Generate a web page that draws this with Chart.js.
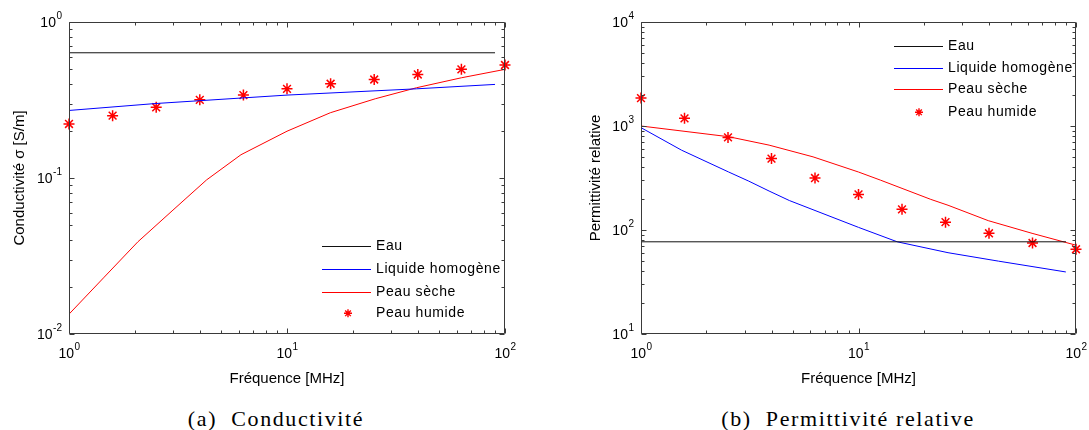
<!DOCTYPE html>
<html><head><meta charset="utf-8">
<script src="https://cdn.jsdelivr.net/npm/chart.js@4.4.1/dist/chart.umd.min.js"></script>
<style>
html,body{margin:0;padding:0;background:#fff;width:1089px;height:430px;overflow:hidden;position:relative}
canvas{position:absolute;top:0}
.cap{position:absolute;font-family:"Liberation Serif","Times New Roman",serif;font-size:22px;letter-spacing:1.6px;white-space:pre;transform:translateX(-50%);color:#000;line-height:1}
</style></head><body>
<canvas id="c1" width="540" height="400" style="left:0"></canvas>
<canvas id="c2" width="529" height="400" style="left:560px"></canvas>
<div class="cap" style="left:276px;top:408px">(a)  Conductivité</div>
<div class="cap" style="left:848px;top:408px">(b)  Permittivité relative</div>
<script>
// ---------- data ----------
const seriesLabels = ['Eau', 'Liquide homogène', 'Peau sèche', 'Peau humide'];
const starFreq = [1, 1.585, 2.512, 3.981, 6.31, 10, 15.85, 25.12, 39.81, 63.1, 100];

// (a) Conductivité [S/m]
const eauSigmaFreq = [1, 90];
const eauSigma = [0.635, 0.635];
const liqSigmaFreq = [1, 2.48, 10, 39.3, 90];
const liqSigma = [0.271, 0.30, 0.34, 0.373, 0.398];
const secheSigmaFreq = [1, 1.44, 2.07, 2.97, 3.44, 4.28, 6.15, 10, 15.8, 25.4, 39.3, 63.1, 100];
const secheSigma = [0.0134, 0.0229, 0.039, 0.0615, 0.074, 0.0973, 0.141, 0.1995, 0.262, 0.322, 0.379, 0.439, 0.497];
const humideSigma = [0.222, 0.251, 0.284, 0.317, 0.34, 0.373, 0.402, 0.428, 0.461, 0.497, 0.53];

// (b) Permittivité relative
const eauEpsFreq = [1, 90];
const eauEps = [77, 77];
const liqEpsFreq = [1, 1.535, 2.53, 3.13, 3.88, 4.81, 10, 15.07, 25.8, 44, 89.8];
const liqEps = [964, 586, 361, 295, 237, 192, 106, 77, 60.5, 50.2, 39.5];
const secheEpsFreq = [1, 2.53, 3.88, 6.18, 10, 12.6, 21.5, 25.8, 39.5, 62.8, 89.8, 100];
const secheEps = [1000, 789, 655, 505, 361, 302, 197, 173, 123, 92.9, 75.9, 71.4];
const humideEps = [1854, 1186, 776, 486, 316, 220, 158, 119, 93, 75, 65.3];

const xTickValues = [1, 10, 100];
const ySigmaTickValues = [0.01, 0.1, 1];
const yEpsTickValues = [10, 100, 1000, 10000];

// ---------- helpers ----------
const FF = '"Liberation Sans", Arial, Helvetica, sans-serif';
function pts(xs, ys){ return xs.map((x, i) => ({x: x, y: ys[i]})); }
function expOf(v){ return String(Math.round(Math.log10(v))); }

const boxTicks = {
  id: 'boxTicks',
  afterDatasetsDraw(chart){
    const {ctx, chartArea: a, scales} = chart;
    const x = scales.x, y = scales.y;
    const L = Math.round(a.left) + 0.5, R = Math.round(a.right) - 0.5;
    const T = Math.round(a.top) + 0.5, B = Math.round(a.bottom) - 0.5;
    function vals(min, max){
      const out = [];
      for (let e = Math.floor(Math.log10(min)); e <= Math.ceil(Math.log10(max)); e++){
        for (let k = 1; k <= 9; k++){
          const v = k * Math.pow(10, e);
          if (v >= min * 0.999 && v <= max * 1.001) out.push({v: v, major: k === 1});
        }
      }
      return out;
    }
    ctx.save();
    ctx.strokeStyle = '#3a3a3a';
    ctx.lineWidth = 1;
    ctx.beginPath();
    vals(x.min, x.max).forEach(t => {
      const px = Math.round(x.getPixelForValue(t.v)) + 0.5;
      const len = t.major ? 5 : 3;
      ctx.moveTo(px, B); ctx.lineTo(px, B - len);
      ctx.moveTo(px, T); ctx.lineTo(px, T + len);
    });
    vals(y.min, y.max).forEach(t => {
      const py = Math.round(y.getPixelForValue(t.v)) + 0.5;
      const len = t.major ? 5 : 3;
      ctx.moveTo(L, py); ctx.lineTo(L + len, py);
      ctx.moveTo(R, py); ctx.lineTo(R - len, py);
    });
    ctx.rect(L, T, R - L, B - T);
    ctx.stroke();

    // power-of-ten tick labels: "10" with raised exponent
    const baseFont = '14px ' + FF, expFont = '10px ' + FF;
    ctx.fillStyle = '#000';
    ctx.textBaseline = 'alphabetic';
    ctx.textAlign = 'left';
    function measure(e){
      ctx.font = baseFont; const w1 = ctx.measureText('10').width;
      ctx.font = expFont; const w2 = ctx.measureText(e).width;
      return [w1, w2];
    }
    function drawLab(e, left, base){
      const [w1] = measure(e);
      ctx.font = baseFont; ctx.fillText('10', left, base);
      ctx.font = expFont; ctx.fillText(e, left + w1 + 0.5, base - 8);
    }
    x.ticks.forEach(t => {
      const e = expOf(t.value);
      const [w1, w2] = measure(e);
      const px = x.getPixelForValue(t.value);
      drawLab(e, px - (w1 + w2) / 2, B + 24);
    });
    y.ticks.forEach(t => {
      const e = expOf(t.value);
      const [w1, w2] = measure(e);
      const py = y.getPixelForValue(t.value);
      drawLab(e, L - 8 - (w1 + w2), py + 5);
    });
    ctx.restore();
  }
};

const insideLegend = {
  id: 'insideLegend',
  afterDraw(chart, args, o){
    if (!o || !o.ys) return;
    const ctx = chart.ctx;
    const ds0 = chart.data.datasets;
    for (let i = 0; i < ds0.length; i++){
      const ds = ds0[i];
      const yy = o.ys[i];
      ctx.save();
      ctx.strokeStyle = ds.borderColor;
      ctx.fillStyle = ds.borderColor;
      if (ds.showLine) {
        ctx.lineWidth = 1.2;
        ctx.beginPath();
        ctx.moveTo(o.x1, Math.round(yy) + 0.5);
        ctx.lineTo(o.x2, Math.round(yy) + 0.5);
        ctx.stroke();
      } else {
        ctx.lineWidth = 1.4;
        Chart.helpers.drawPoint(ctx, {pointStyle: 'star', radius: 4, borderWidth: 1.4, rotation: 0}, o.starX, yy);
      }
      ctx.restore();
      ctx.save();
      ctx.font = '14px ' + FF;
      ctx.textBaseline = 'middle';
      ctx.textAlign = 'left';
      if ('letterSpacing' in ctx) ctx.letterSpacing = '0.6px';
      ctx.fillStyle = '#000';
      ctx.fillText(ds.label, o.tx, yy);
      ctx.restore();
    }
  }
};

function lineDs(label, xs, ys, color){
  return {label: label, data: pts(xs, ys), showLine: true, borderColor: color, backgroundColor: color,
          borderWidth: 1, pointRadius: 0, pointHoverRadius: 0, tension: 0, fill: false};
}
function starDs(label, xs, ys, color){
  return {label: label, data: pts(xs, ys), showLine: false, pointStyle: 'star', pointRadius: 5.5,
          pointHoverRadius: 5.5, borderColor: color, backgroundColor: color, pointBorderWidth: 1.5, clip: false};
}

function makeChart(id, datasets, yMin, yMax, yTicks, yTitle, yTitlePad, yWidth, rightPad, legendOpts){
  return new Chart(document.getElementById(id), {
    type: 'scatter',
    data: {datasets: datasets},
    options: {
      responsive: false, animation: false, devicePixelRatio: 1,
      layout: {padding: {left: 0, right: rightPad, top: 22, bottom: 0}},
      plugins: {legend: {display: false}, tooltip: {enabled: false}, insideLegend: legendOpts},
      events: [],
      scales: {
        x: {
          type: 'logarithmic', min: 1, max: 100,
          grid: {display: false, drawTicks: false, tickLength: 0},
          border: {display: false},
          afterBuildTicks(s){ s.ticks = xTickValues.map(v => ({value: v})); },
          afterFit(s){ s.height = 66; },
          ticks: {display: false},
          title: {display: true, text: 'Fréquence [MHz]', color: '#000', font: {family: FF, size: 15},
                  padding: {top: 0, bottom: 12}}
        },
        y: {
          type: 'logarithmic', min: yMin, max: yMax,
          grid: {display: false, drawTicks: false, tickLength: 0},
          border: {display: false},
          afterBuildTicks(s){ s.ticks = yTicks.map(v => ({value: v})); },
          afterFit(s){ s.width = yWidth; },
          ticks: {display: false},
          title: {display: true, text: yTitle, color: '#000', font: {family: FF, size: 15},
                  padding: {top: yTitlePad, bottom: 0}}
        }
      }
    },
    plugins: [boxTicks, insideLegend]
  });
}

makeChart('c1', [
  lineDs(seriesLabels[0], eauSigmaFreq, eauSigma, '#111111'),
  lineDs(seriesLabels[1], liqSigmaFreq, liqSigma, '#0000ff'),
  lineDs(seriesLabels[2], secheSigmaFreq, secheSigma, '#ff0000'),
  starDs(seriesLabels[3], starFreq, humideSigma, '#ff0000')
], 0.01, 1, ySigmaTickValues, 'Conductivité σ [S/m]', 11, 69, 35,
  {x1: 322, x2: 371, tx: 376, starX: 348, ys: [246, 269, 291.7, 313.3]});

makeChart('c2', [
  lineDs(seriesLabels[0], eauEpsFreq, eauEps, '#111111'),
  lineDs(seriesLabels[1], liqEpsFreq, liqEps, '#0000ff'),
  lineDs(seriesLabels[2], secheEpsFreq, secheEps, '#ff0000'),
  starDs(seriesLabels[3], starFreq, humideEps, '#ff0000')
], 10, 10000, yEpsTickValues, 'Permittivité relative', 27, 81, 13,
  {x1: 334, x2: 383, tx: 388, starX: 359, ys: [45.7, 68.3, 89, 112.3]});
</script>
</body></html>
